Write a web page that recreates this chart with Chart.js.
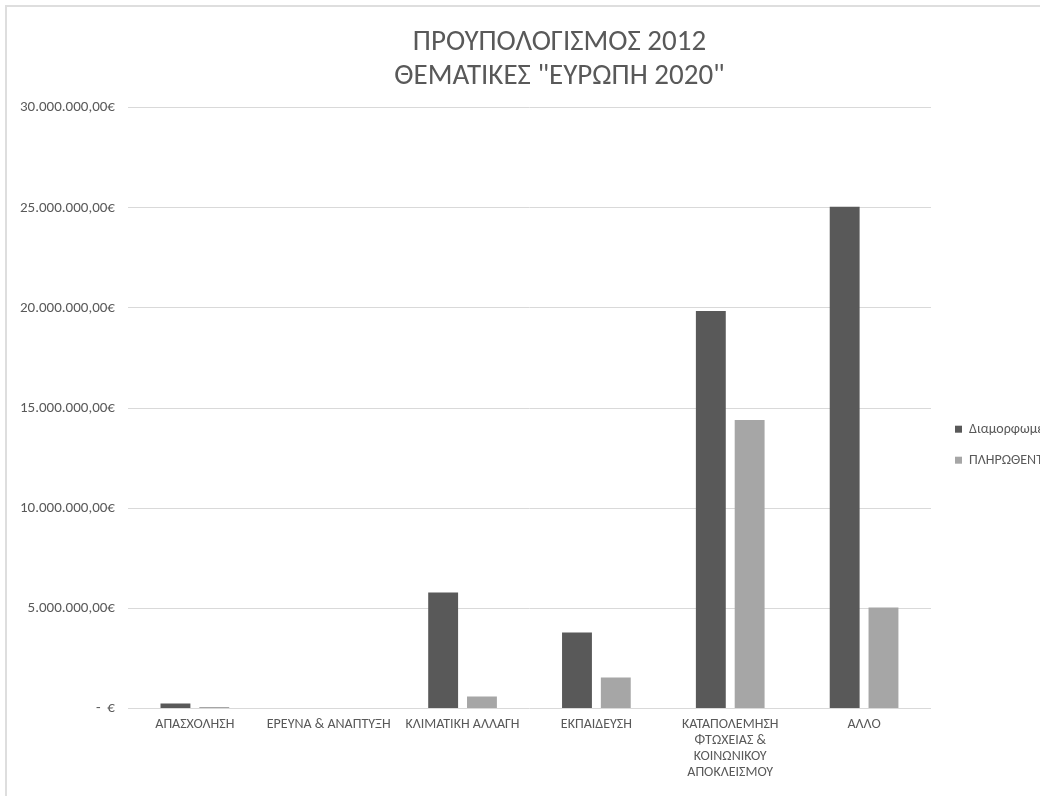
<!DOCTYPE html>
<html>
<head>
<meta charset="utf-8">
<script src="https://cdn.jsdelivr.net/npm/chart.js@4"></script>
<style>
  html, body { margin: 0; padding: 0; background: #fff; overflow: hidden; }
  #frame {
    position: absolute; left: 5px; top: 5px;
    width: 1105px; height: 791px;
    border-left: 2px solid #dedede; border-top: 2px solid #dedede;
  }
</style>
</head>
<body>
<div id="frame"><canvas id="budgetChart" width="1105" height="791"></canvas></div>
<script>
// categories / series
const categories = [
    'ΑΠΑΣΧΟΛΗΣΗ',
    'ΕΡΕΥΝΑ & ΑΝΑΠΤΥΞΗ',
    'ΚΛΙΜΑΤΙΚΗ ΑΛΛΑΓΗ',
    'ΕΚΠΑΙΔΕΥΣΗ',
    ['ΚΑΤΑΠΟΛΕΜΗΣΗ', 'ΦΤΩΧΕΙΑΣ &', 'ΚΟΙΝΩΝΙΚΟΥ', 'ΑΠΟΚΛΕΙΣΜΟΥ'],
    'ΆΛΛΟ'
];
const budgetValues = [250000, 0, 5800000, 3800000, 19850000, 25050000];
const paidValues = [80000, 0, 600000, 1550000, 14400000, 5050000];
const seriesNames = ['Διαμορφωμένος Προϋπολογισμός', 'ΠΛΗΡΩΘΕΝΤΑ'];
const yTicks = [0, 5000000, 10000000, 15000000, 20000000, 25000000, 30000000];

const textColor = '#595959';
const fontFam = "Carlito, 'Open Sans', sans-serif";

function euro(v) {
    if (v === 0) return '-  €';
    return v.toLocaleString('de-DE', { minimumFractionDigits: 2, maximumFractionDigits: 2 }) + '€';
}

// push the legend a little away from the plot, like the Excel original
const legendNudge = {
    id: 'legendNudge',
    afterLayout(chart) {
        chart.legend.left += 7;
        chart.legend.right += 7;
    }
};

new Chart(document.getElementById('budgetChart'), {
    type: 'bar',
    data: {
        labels: categories,
        datasets: [{
            label: seriesNames[0],
            data: budgetValues,
            backgroundColor: '#595959',
            categoryPercentage: 0.58,
            barPercentage: 0.77
        }, {
            label: seriesNames[1],
            data: paidValues,
            backgroundColor: '#a6a6a6',
            categoryPercentage: 0.58,
            barPercentage: 0.77
        }]
    },
    plugins: [legendNudge],
    options: {
        responsive: false,
        animation: false,
        layout: { padding: { left: 0, right: 0, top: 0, bottom: 17 } },
        plugins: {
            title: {
                display: true,
                text: ['ΠΡΟΥΠΟΛΟΓΙΣΜΟΣ 2012', 'ΘΕΜΑΤΙΚΕΣ "ΕΥΡΩΠΗ 2020"'],
                color: textColor,
                font: { family: fontFam, size: 29, weight: 'normal', lineHeight: 1.2 },
                padding: { top: 18, bottom: 13 }
            },
            legend: {
                position: 'right',
                maxWidth: 181,
                title: { display: true, text: '', padding: { top: 87, bottom: 0 } },
                labels: {
                    color: textColor,
                    font: { family: fontFam, size: 14 },
                    boxWidth: 7,
                    boxHeight: 7,
                    padding: 17
                }
            },
            tooltip: { enabled: false }
        },
        scales: {
            x: {
                grid: { display: false },
                border: { display: false },
                ticks: {
                    color: textColor,
                    font: { family: fontFam, size: 14, lineHeight: 1.15 },
                    maxRotation: 0,
                    autoSkip: false,
                    padding: 0
                }
            },
            y: {
                min: 0,
                max: 30000000,
                afterBuildTicks: axis => { axis.ticks = yTicks.map(v => ({ value: v })); },
                grid: { color: '#d9d9d9', drawTicks: false },
                border: { display: false },
                ticks: {
                    color: textColor,
                    font: { family: fontFam, size: 15 },
                    padding: 13,
                    callback: v => euro(v)
                }
            }
        }
    }
});
</script>
</body>
</html>
